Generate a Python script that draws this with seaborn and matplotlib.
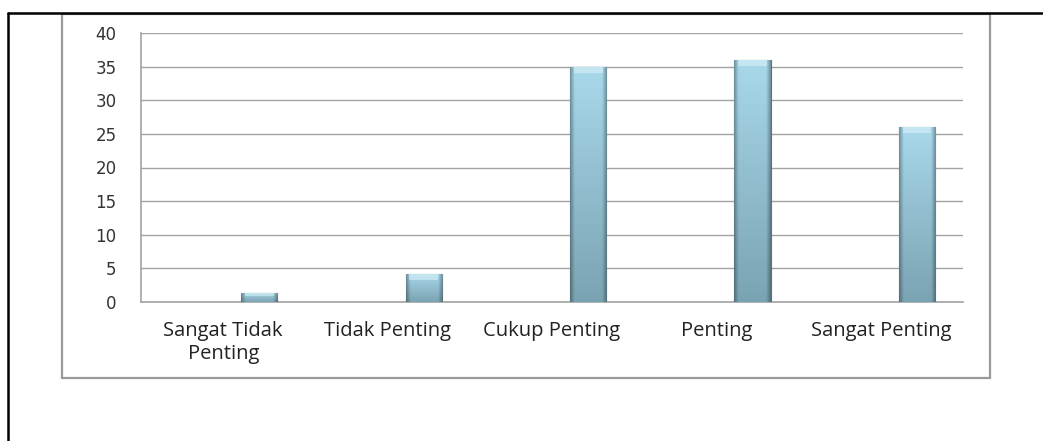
import numpy as np
import pandas as pd
import matplotlib
matplotlib.use("Agg")
import matplotlib.pyplot as plt
import seaborn as sns
from matplotlib.patches import Rectangle
from matplotlib.lines import Line2D

# data
categories = ["Sangat Tidak\nPenting", "Tidak Penting", "Cukup Penting", "Penting", "Sangat Penting"]
values = [1.4, 4.2, 34.9, 36.0, 26.0]
y_ticks = [0, 5, 10, 15, 20, 25, 30, 35, 40]

# the chart looks like an Excel clustered column with 3 series where
# only the last one has values -> bar sits right of the category centre
series = ["s1", "s2", "s3"]
df = pd.DataFrame({
    "kategori": categories * 3,
    "seri": np.repeat(series, len(categories)),
    "nilai": [np.nan] * (2 * len(categories)) + values,
})

sns.set_style("white")
plt.rcParams["font.family"] = ["DejaVu Sans"]

fig = plt.figure(figsize=(10.43, 4.41), dpi=100)
ax = fig.add_axes([141 / 1043, 1 - 302 / 441, (963 - 141) / 1043, (302 - 33) / 441])

grey = "#a3a3a3"

sns.barplot(
    data=df, x="kategori", y="nilai", hue="seri", hue_order=series,
    order=categories, width=0.66, dodge=True, legend=False,
    palette=["#9ccbdc"] * 3, edgecolor="#56737f", linewidth=0.8,
    errorbar=None, ax=ax, zorder=3,
)

# gradient fill like the Excel bevel look
top_c = np.array([0.66, 0.85, 0.92])
bot_c = np.array([0.48, 0.64, 0.70])
ny, nx = 200, 40
t = np.linspace(0, 1, ny)[:, None, None]
grad = top_c * (1 - t) + bot_c * t
xs = np.linspace(0, 1, nx)
edge = np.clip(np.minimum(xs, 1 - xs) / 0.12, 0, 1)
shade = 0.68 + 0.32 * edge
grad = grad * shade[None, :, None]
for p in list(ax.patches):
    h = p.get_height()
    if not np.isfinite(h) or h <= 0:
        continue
    x0, w = p.get_x(), p.get_width()
    im = ax.imshow(np.clip(grad, 0, 1), extent=[x0, x0 + w, 0, h], aspect="auto",
                   origin="upper", zorder=3.5, interpolation="bilinear")
    im.set_clip_path(p)
    # light top bevel
    bev = min(0.9, h * 0.35)
    ax.add_patch(Rectangle((x0 + w * 0.1, h - bev), w * 0.8, bev, facecolor="#d8f0f8",
                           edgecolor="none", alpha=0.6, zorder=3.6))

ax.set_xlim(-0.5, len(categories) - 0.5)
ax.set_ylim(0, 40)
ax.set_yticks(y_ticks)
ax.set_xlabel("")
ax.set_ylabel("")

ax.yaxis.grid(True, color=grey, linewidth=1.0, zorder=0)
ax.set_axisbelow(True)
for s in ["top", "right"]:
    ax.spines[s].set_visible(False)
for s in ["left", "bottom"]:
    ax.spines[s].set_color(grey)
    ax.spines[s].set_linewidth(1.2)

ax.tick_params(axis="y", direction="out", length=6.5, width=1, color=grey,
               labelsize=12, labelcolor="#333333", pad=11)
ax.set_xticks(np.arange(-0.5, len(categories)), minor=True)
ax.tick_params(axis="x", which="minor", direction="out", length=4.5, width=1, color=grey)
ax.tick_params(axis="x", which="major", length=0, pad=14)
for lab in ax.get_xticklabels():
    lab.set_fontfamily(["Open Sans", "DejaVu Sans"])
    lab.set_fontsize(14.5)
    lab.set_color("#222222")
    lab.set_linespacing(1.2)
    lab.set_verticalalignment("top")

# grey chart frame and the black page lines
fig.add_artist(Rectangle((62 / 1043, 1 - 378 / 441), (990 - 62) / 1043, (378 - 14) / 441,
                         transform=fig.transFigure, facecolor="none", edgecolor="#9a9a9a",
                         linewidth=1.6))
fig.add_artist(Line2D([8 / 1043, 1], [1 - 13 / 441, 1 - 13 / 441], transform=fig.transFigure,
                      color="black", linewidth=1.8))
fig.add_artist(Line2D([8 / 1043, 8 / 1043], [1 - 13 / 441, 0], transform=fig.transFigure,
                      color="black", linewidth=1.8))

fig.savefig("out.png", dpi=100)
